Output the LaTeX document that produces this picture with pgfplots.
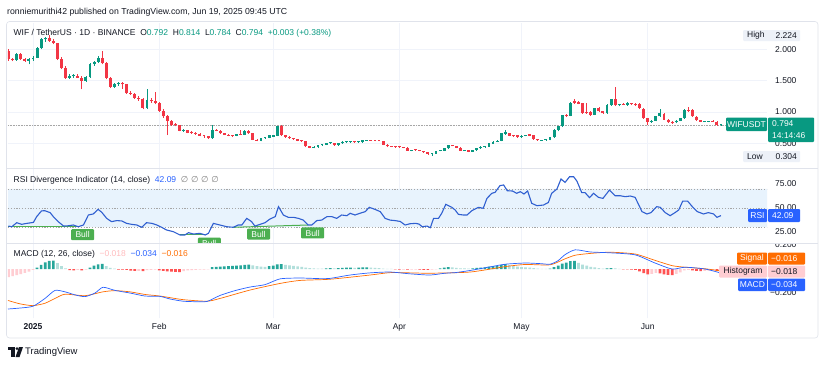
\documentclass[border=0pt]{standalone}
\usepackage{fontspec}
\setmainfont{Liberation Sans}
\newfontfamily\dejavu{DejaVu Sans}
\usepackage{pgfplots}
\usepackage{pgfplotstable}
\pgfplotsset{compat=1.18}
\definecolor{tvgreen}{HTML}{089981}
\definecolor{tvred}{HTML}{F23645}
\definecolor{tvblue}{HTML}{2962FF}
\definecolor{tvorange}{HTML}{FF6D00}
\definecolor{histg}{HTML}{26A69A}
\definecolor{histlg}{HTML}{B2DFDB}
\definecolor{histr}{HTML}{FF5252}
\definecolor{histp}{HTML}{FFCDD2}
\definecolor{gridc}{HTML}{F0F3FA}
\definecolor{framec}{HTML}{E0E3EB}
\definecolor{txt}{HTML}{131722}
\definecolor{rsiline}{HTML}{2F5FD0}
\definecolor{band}{HTML}{E8F3FD}
\definecolor{bull}{HTML}{4CAF50}
\definecolor{hlbox}{HTML}{EDF1F8}
\newcommand\tvf{\fontsize{8.5}{10}\selectfont}

\pgfplotstableread{
d o h l c
-6 1.98 2.00 1.82 1.84
-5 1.84 1.87 1.81 1.83
-4 1.83 1.95 1.82 1.93
-3 1.93 1.95 1.83 1.84
-2 1.84 1.86 1.80 1.82
-1 1.82 1.87 1.76 1.84
0 1.84 1.89 1.82 1.87
1 1.87 2.04 1.86 2.02
2 2.02 2.18 2.00 2.16
3 2.16 2.20 2.12 2.18
4 2.18 2.224 2.12 2.14
5 2.14 2.16 2.08 2.10
6 2.10 2.11 1.83 1.85
7 1.85 1.88 1.68 1.70
8 1.70 1.73 1.53 1.55
9 1.55 1.60 1.53 1.57
10 1.57 1.60 1.55 1.58
11 1.58 1.60 1.54 1.55
12 1.55 1.57 1.36 1.50
13 1.50 1.57 1.48 1.56
14 1.56 1.79 1.55 1.77
15 1.77 1.82 1.74 1.80
16 1.80 1.89 1.78 1.87
17 1.87 1.98 1.76 1.78
18 1.78 1.80 1.52 1.54
19 1.54 1.56 1.38 1.40
20 1.40 1.47 1.38 1.45
21 1.45 1.48 1.42 1.46
22 1.46 1.48 1.37 1.44
23 1.44 1.45 1.29 1.30
24 1.30 1.33 1.27 1.29
25 1.29 1.30 1.21 1.23
26 1.23 1.25 1.18 1.20
27 1.20 1.22 1.04 1.07
28 1.07 1.37 1.05 1.19
29 1.19 1.22 1.15 1.17
30 1.17 1.32 1.12 1.15
31 1.15 1.16 1.00 1.02
32 1.02 1.04 0.91 0.93
33 0.93 0.95 0.63 0.86
34 0.86 0.88 0.78 0.80
35 0.80 0.82 0.77 0.79
36 0.79 0.80 0.69 0.70
37 0.70 0.73 0.68 0.71
38 0.71 0.72 0.66 0.67
39 0.67 0.69 0.65 0.665
40 0.665 0.68 0.64 0.65
41 0.65 0.66 0.61 0.62
42 0.62 0.64 0.59 0.615
43 0.615 0.62 0.57 0.58
44 0.58 0.79 0.575 0.72
45 0.72 0.73 0.69 0.70
46 0.70 0.71 0.65 0.66
47 0.66 0.67 0.63 0.64
48 0.64 0.65 0.61 0.62
49 0.62 0.63 0.60 0.617
50 0.617 0.65 0.61 0.645
51 0.645 0.71 0.63 0.64
52 0.64 0.71 0.63 0.70
53 0.70 0.71 0.65 0.66
54 0.66 0.67 0.55 0.56
55 0.56 0.57 0.53 0.54
56 0.54 0.59 0.53 0.58
57 0.58 0.60 0.57 0.585
58 0.585 0.63 0.58 0.625
59 0.605 0.64 0.60 0.63
60 0.62 0.78 0.61 0.77
61 0.77 0.80 0.62 0.63
62 0.63 0.64 0.59 0.60
63 0.60 0.61 0.57 0.58
64 0.58 0.59 0.55 0.565
65 0.565 0.57 0.53 0.54
66 0.55 0.56 0.52 0.53
67 0.53 0.54 0.44 0.45
68 0.455 0.46 0.42 0.43
69 0.43 0.45 0.42 0.44
70 0.44 0.48 0.43 0.47
71 0.47 0.48 0.46 0.47
72 0.48 0.51 0.47 0.50
73 0.50 0.51 0.49 0.50
74 0.50 0.51 0.46 0.47
75 0.47 0.51 0.46 0.50
76 0.50 0.53 0.49 0.52
77 0.52 0.53 0.51 0.52
78 0.52 0.54 0.51 0.526
79 0.526 0.53 0.51 0.516
80 0.516 0.53 0.51 0.52
81 0.52 0.55 0.51 0.545
82 0.545 0.56 0.54 0.55
83 0.55 0.56 0.54 0.545
84 0.545 0.55 0.53 0.54
85 0.54 0.55 0.53 0.535
86 0.535 0.54 0.47 0.48
87 0.48 0.49 0.44 0.45
88 0.45 0.46 0.44 0.445
89 0.445 0.45 0.43 0.44
90 0.44 0.45 0.43 0.435
91 0.435 0.44 0.42 0.43
92 0.43 0.44 0.38 0.385
93 0.385 0.40 0.37 0.395
94 0.395 0.40 0.38 0.39
95 0.39 0.40 0.37 0.38
96 0.38 0.385 0.35 0.355
97 0.355 0.36 0.32 0.33
98 0.33 0.345 0.304 0.335
99 0.335 0.38 0.33 0.375
100 0.375 0.39 0.37 0.38
101 0.38 0.43 0.375 0.42
102 0.42 0.48 0.41 0.47
103 0.47 0.48 0.45 0.455
104 0.455 0.46 0.42 0.43
105 0.43 0.435 0.38 0.385
106 0.385 0.40 0.38 0.39
107 0.39 0.395 0.36 0.365
108 0.365 0.395 0.36 0.39
109 0.39 0.425 0.385 0.42
110 0.42 0.45 0.41 0.44
111 0.44 0.45 0.43 0.445
112 0.445 0.505 0.44 0.50
113 0.49 0.53 0.485 0.525
114 0.525 0.545 0.52 0.537
115 0.537 0.67 0.53 0.66
116 0.645 0.72 0.64 0.675
117 0.66 0.67 0.61 0.62
118 0.62 0.63 0.60 0.615
119 0.625 0.63 0.59 0.60
120 0.60 0.63 0.59 0.62
121 0.62 0.64 0.61 0.63
122 0.645 0.65 0.61 0.62
123 0.63 0.635 0.555 0.565
124 0.565 0.57 0.54 0.545
125 0.545 0.56 0.54 0.55
126 0.55 0.56 0.54 0.55
127 0.55 0.60 0.545 0.595
128 0.595 0.73 0.59 0.72
129 0.72 0.78 0.69 0.77
130 0.77 0.96 0.76 0.95
131 0.95 0.97 0.92 0.94
132 0.94 1.16 0.93 1.15
133 1.17 1.20 1.13 1.14
134 1.16 1.17 1.12 1.13
135 1.14 1.15 0.97 0.98
136 1.00 1.15 0.97 0.98
137 1.00 1.01 0.94 0.95
138 0.96 1.07 0.95 1.06
139 1.06 1.08 1.00 1.01
140 1.01 1.02 0.97 0.98
141 0.98 1.12 0.97 1.11
142 1.11 1.21 1.10 1.20
143 1.20 1.395 1.10 1.11
144 1.11 1.13 1.09 1.115
145 1.13 1.15 1.11 1.12
146 1.11 1.16 1.10 1.14
147 1.13 1.15 1.11 1.125
148 1.13 1.15 1.10 1.12
149 1.13 1.14 1.05 1.06
150 1.05 1.06 0.89 0.90
151 0.90 0.91 0.79 0.845
152 0.845 0.87 0.83 0.86
153 0.86 0.94 0.85 0.93
154 0.93 1.04 0.92 0.98
155 0.97 0.98 0.87 0.88
156 0.88 0.89 0.83 0.835
157 0.845 0.85 0.81 0.82
158 0.835 0.87 0.82 0.86
159 0.86 0.91 0.85 0.90
160 0.90 1.04 0.89 1.03
161 1.03 1.085 1.00 1.02
162 1.03 1.04 0.92 0.93
163 0.925 0.93 0.86 0.87
164 0.87 0.88 0.84 0.845
165 0.845 0.86 0.84 0.845
166 0.845 0.86 0.84 0.85
167 0.85 0.87 0.84 0.845
168 0.845 0.86 0.78 0.79
169 0.792 0.814 0.784 0.794
}\ohlc

\pgfplotstableread{
d r
-6.07 31.2
-5.2 30.5
-4.0 34.7
-2.8 33
-1.5 34
0.1 35
0.9 41
2.1 47
2.9 47.2
4.2 45.2
5.0 41
6.2 35.8
7.5 31.2
8.7 31.5
9.9 32.3
11.1 30.5
12.4 32.3
13.6 42.7
14.8 43.8
16.0 48.6
16.9 45.5
18.1 39.2
19.3 35.8
20.6 36.9
21.8 36.5
23.0 34
24.2 33
25.5 32.3
26.7 29.9
27.9 34.7
29.2 34
30.4 32.3
31.6 29.9
32.8 27.1
34.5 25.3
36.1 21.9
37.3 21.9
38.2 24.3
39.4 22.9
41.0 23.6
42.3 21.9
43.1 23.6
44.3 34
45.9 32.3
47.6 30.5
49.2 29.9
50.4 32.3
51.3 32.3
52.5 39.2
53.7 35.8
54.5 31.2
55.8 33
57.0 34.7
58.2 38.5
59.5 41
60.3 51.4
61.5 42.7
62.7 40.3
64.0 40.3
65.2 39.2
66.4 37.4
67.6 32.3
68.5 32.3
69.7 36.9
70.9 37.4
72.2 41
73.4 41
74.6 39.2
75.8 42.7
77.1 42
77.9 44.5
79.1 42.7
80.3 44.5
81.6 46.2
82.6 50.7
84.0 48.6
85.3 46.2
86.5 39.2
87.7 37.4
88.9 36.9
90.2 36
91.4 32.3
92.6 33.6
94.0 34
94.8 33.3
95.6 30.5
96.8 31.2
97.6 29.5
98.4 39.2
99.6 39.2
100.4 44.5
101.4 53.8
102.9 50.7
103.7 47.9
104.5 43.4
105.7 42.7
106.6 42.7
107.8 47.2
109.4 50.7
110.6 49.7
111.5 60
112.7 65.3
113.5 66.3
114.7 73.3
115.6 74
116.5 68
117.8 67.7
118.8 65.3
119.7 67
120.6 64.6
121.5 67.7
122.5 54.9
123.8 52.4
125.4 53.1
126.6 55.8
127.4 65.3
128.7 69.8
129.7 80.2
130.7 76.7
131.8 82.6
132.8 82.6
133.6 78.1
134.8 66
135.6 66
136.7 60.8
137.7 65.3
138.9 61.1
140.0 60
141.6 68.7
143.0 62.8
144.2 62.8
145.5 61.8
146.7 62.5
147.9 61.1
149.6 46.2
150.8 43.8
151.8 45.2
153.2 51.4
154.1 50.7
155.3 45.2
156.5 42
157.7 45.2
158.6 47.9
159.6 57.2
160.8 57.2
162.1 50.7
163.2 46.2
164.7 43.8
165.9 45.2
167.2 43.8
168.0 40.3
169.0 42.09
}\rsi

\pgfplotstableread{
d v
-6.14 -0.333
-3.19 -0.325
0 -0.31
2.95 -0.245
5.41 -0.178
7.86 -0.19
10.3 -0.215
12.78 -0.23
15.23 -0.20
17.2 -0.152
20.15 -0.178
23.83 -0.20
27.52 -0.225
31.2 -0.228
33.7 -0.25
36.86 -0.268
39.8 -0.272
42.75 -0.27
45.95 -0.22
49.6 -0.18
53.32 -0.15
57 -0.13
60.69 -0.082
65.6 -0.075
70.5 -0.08
72.97 -0.078
77.89 -0.05
82.8 -0.032
87.7 -0.025
92.6 -0.04
97.5 -0.05
101.2 -0.035
103.7 -0.03
107.4 -0.012
112.3 0.018
116 0.04
120.9 0.05
124.6 0.045
127 0.04
129 0.07
130.7 0.12
133.2 0.16
136.9 0.142
141.8 0.135
147.9 0.118
152.8 0.05
157 0.0
160.2 0.015
165.1 0.0
169 -0.034
}\macd

\pgfplotstableread{
d v
-6.14 -0.262
-3.19 -0.29
0 -0.305
2.95 -0.285
5.41 -0.245
7.86 -0.21
12.78 -0.222
17.2 -0.19
20.15 -0.18
23.83 -0.19
27.52 -0.212
31.2 -0.225
36.86 -0.255
42.75 -0.268
45.95 -0.245
53.32 -0.175
60.69 -0.12
65.6 -0.095
72.97 -0.085
82.8 -0.05
87.7 -0.03
92.6 -0.032
97.5 -0.035
107.4 -0.025
116 0.02
120.9 0.038
127 0.035
130.7 0.085
133.2 0.115
136.9 0.13
141.8 0.14
147.9 0.125
152.8 0.072
157 0.028
160.2 0.015
165.1 0.002
169 -0.016
}\signal

\pgfplotstableread{
d h c
-6 -0.068 4
-5 -0.060 4
-4 -0.050 4
-3 -0.042 4
-2 -0.032 4
-1 -0.022 4
0 -0.008 4
1 0.012 1
2 0.035 1
3 0.055 1
4 0.068 1
5 0.070 1
6 0.050 2
7 0.025 2
8 0.005 2
9 -0.010 3
10 -0.012 3
11 -0.008 4
12 -0.012 3
13 -0.006 4
14 0.012 1
15 0.028 1
16 0.038 1
17 0.042 1
18 0.025 2
19 0.010 2
20 0.004 2
21 -0.004 3
22 -0.006 3
23 -0.008 3
24 -0.014 3
25 -0.016 3
26 -0.015 4
27 -0.018 3
28 -0.010 4
29 -0.008 4
30 -0.006 4
31 -0.012 3
32 -0.016 3
33 -0.020 3
34 -0.022 3
35 -0.024 3
36 -0.025 3
37 -0.018 4
38 -0.012 4
39 -0.010 4
40 -0.008 4
41 -0.006 4
42 -0.004 4
43 -0.002 4
44 0.015 1
45 0.018 1
46 0.020 1
47 0.022 1
48 0.024 1
49 0.026 1
50 0.028 1
51 0.030 1
52 0.034 1
53 0.036 1
54 0.030 2
55 0.024 2
56 0.020 2
57 0.018 2
58 0.024 1
59 0.028 1
60 0.038 1
61 0.040 1
62 0.034 2
63 0.030 2
64 0.026 2
65 0.022 2
66 0.018 2
67 0.012 2
68 0.008 2
69 0.006 2
70 0.004 2
71 0.003 2
72 0.006 1
73 0.008 1
74 0.005 2
75 0.008 1
76 0.010 1
77 0.012 1
78 0.012 1
79 0.010 2
80 0.011 1
81 0.013 1
82 0.014 1
83 0.012 2
84 0.010 2
85 0.008 2
86 0.004 2
87 0.002 2
88 0.001 2
89 -0.003 3
90 -0.004 3
91 -0.004 4
92 -0.006 3
93 -0.005 4
94 -0.004 4
95 -0.006 3
96 -0.008 3
97 -0.008 3
98 -0.005 4
99 -0.002 4
100 0.006 1
101 0.012 1
102 0.016 1
103 0.014 2
104 0.010 2
105 0.006 2
106 0.005 2
107 0.004 2
108 0.006 1
109 0.010 1
110 0.012 1
111 0.014 1
112 0.020 1
113 0.024 1
114 0.026 1
115 0.034 1
116 0.040 1
117 0.032 2
118 0.026 2
119 0.020 2
120 0.016 2
121 0.014 2
122 0.012 2
123 0.008 2
124 0.004 2
125 0.002 2
126 0.001 2
127 0.004 1
128 0.016 1
129 0.028 1
130 0.044 1
131 0.054 1
132 0.066 1
133 0.068 1
134 0.052 2
135 0.036 2
136 0.028 2
137 0.018 2
138 0.014 2
139 0.008 2
140 0.004 2
141 0.006 1
142 0.008 1
143 0.005 2
144 0.002 2
145 -0.002 3
146 -0.003 3
147 -0.004 3
148 -0.008 3
149 -0.020 3
150 -0.035 3
151 -0.045 3
152 -0.040 4
153 -0.032 4
154 -0.036 3
155 -0.044 3
156 -0.048 3
157 -0.050 3
158 -0.040 4
159 -0.028 4
160 -0.012 4
161 -0.008 4
162 -0.012 3
163 -0.016 3
164 -0.018 3
165 -0.016 4
166 -0.014 4
167 -0.012 4
168 -0.018 3
169 -0.018 4
}\hist

\pgfplotsset{
  tvpanel/.style={
    scale only axis, width=759pt,
    xmin=-6.14, xmax=180.3,
    axis line style={draw=none},
    major tick length=0pt,
    tick style={draw=none},
    xtick={0,31,59,90,120,151},
    xmajorgrids, ymajorgrids,
    grid style={draw=gridc, line width=0.6pt},
    yticklabel pos=right,
    yticklabel style={font=\tvf, text=txt, anchor=east, xshift=33pt},
  },
  wick/.style={draw=none, no markers, forget plot,
    error bars/y dir=plus, error bars/y explicit, error bars/error mark=none,
    error bars/error bar style={solid, line width=0.7pt, draw=#1}},
  body/.style={draw=none, no markers, forget plot,
    error bars/y dir=plus, error bars/y explicit, error bars/error mark=none,
    error bars/error bar style={solid, line width=2.9pt, draw=#1}},
  hbar/.style={ybar, bar width=2.7pt, bar shift=0pt, draw=none, fill=#1, forget plot},
}

\begin{document}
\begin{tikzpicture}
\path[use as bounding box] (0,0) rectangle (825pt,-365pt);
\fill[white] (0,0) rectangle (825pt,-365pt);

% ---------------- price panel
\begin{axis}[tvpanel, at={(8pt,-23pt)}, anchor=north west, height=145pt,
  ymin=0.1054, ymax=2.4217, xticklabels={},
  ytick={0.5,1,1.5,2}, yticklabels={\raisebox{-2.5pt}{0.500},\mbox{1.000},\mbox{1.500},\mbox{2.000}}]
\addplot[gray!70, densely dotted, line width=0.6pt, forget plot] coordinates {(-6.14,0.794) (180.3,0.794)};
\addplot[restrict expr to domain={\thisrow{c}-\thisrow{o}}{0:100}, wick=tvgreen]
  table[x=d, y=l, y error plus expr={\thisrow{h}-\thisrow{l}}, y error minus expr=0] {\ohlc};
\addplot[restrict expr to domain={\thisrow{o}-\thisrow{c}}{0.000001:100}, wick=tvred]
  table[x=d, y=l, y error plus expr={\thisrow{h}-\thisrow{l}}, y error minus expr=0] {\ohlc};
\addplot[restrict expr to domain={\thisrow{c}-\thisrow{o}}{0:100}, body=tvgreen]
  table[x=d, y=o, y error plus expr={max(\thisrow{c}-\thisrow{o},0.014)}, y error minus expr=0] {\ohlc};
\addplot[restrict expr to domain={\thisrow{o}-\thisrow{c}}{0.000001:100}, body=tvred]
  table[x=d, y=c, y error plus expr={max(\thisrow{o}-\thisrow{c},0.014)}, y error minus expr=0] {\ohlc};
\end{axis}

% ---------------- RSI panel
\begin{axis}[tvpanel, at={(8pt,-168pt)}, anchor=north west, height=75pt,
  ymin=13.54, ymax=91.67, xticklabels={}, ymajorgrids=false,
  ytick={25,50,75}, yticklabels={\mbox{25.00},\mbox{50.00},\mbox{75.00}}]
\addplot[fill=band, draw=none, forget plot] coordinates {(-6.14,30) (180.3,30) (180.3,70) (-6.14,70) (-6.14,30)};
\addplot[gray!70, dash pattern=on 1.2pt off 1.6pt, line width=0.5pt, forget plot] coordinates {(-6.14,70) (180.3,70)};
\addplot[gray!70, dash pattern=on 1.2pt off 1.6pt, line width=0.5pt, forget plot] coordinates {(-6.14,50) (180.3,50)};
\addplot[gray!70, dash pattern=on 1.2pt off 1.6pt, line width=0.5pt, forget plot] coordinates {(-6.14,30) (180.3,30)};
\addplot[bull, line width=1pt, forget plot] coordinates {(-6.1,30.6) (11.2,30.6)};
\addplot[bull, line width=1pt, forget plot] coordinates {(36.1,21.9) (42.3,21.9)};
\addplot[bull, line width=1pt, forget plot] coordinates {(49.2,29.9) (67.6,32.3)};
\addplot[rsiline, line width=1.1pt] table[x=d, y=r] {\rsi};
\node[fill=bull, text=white, font=\tvf, rounded corners=1pt, inner sep=0pt, minimum width=23pt, minimum height=11pt] at (axis cs:12.2,22.2) {Bull};
\node[fill=bull, text=white, font=\tvf, rounded corners=1pt, inner sep=0pt, minimum width=23pt, minimum height=11pt] at (axis cs:43.3,13.3) {Bull};
\node[fill=bull, text=white, font=\tvf, rounded corners=1pt, inner sep=0pt, minimum width=23pt, minimum height=11pt] at (axis cs:55.4,22.9) {Bull};
\node[fill=bull, text=white, font=\tvf, rounded corners=1pt, inner sep=0pt, minimum width=23pt, minimum height=11pt] at (axis cs:68.7,24.0) {Bull};
\end{axis}

% ---------------- MACD panel
\begin{axis}[tvpanel, at={(8pt,-243pt)}, anchor=north west, height=75pt,
  ymin=-0.408, ymax=0.2167, ymajorgrids=false,
  ytick={-0.2,0.2}, yticklabels={\mbox{−0.200},\mbox{0.200}},
  xticklabels={\mbox{\bfseries 2025},\mbox{Feb},\mbox{Mar},\mbox{Apr},\mbox{May},\mbox{Jun}},
  xticklabel style={font=\tvf, text=txt, yshift=-2pt}]
\addplot[restrict expr to domain={\thisrow{c}}{0.5:1.5}, hbar=histg] table[x=d, y=h] {\hist};
\addplot[restrict expr to domain={\thisrow{c}}{1.5:2.5}, hbar=histlg] table[x=d, y=h] {\hist};
\addplot[restrict expr to domain={\thisrow{c}}{2.5:3.5}, hbar=histr] table[x=d, y=h] {\hist};
\addplot[restrict expr to domain={\thisrow{c}}{3.5:4.5}, hbar=histp] table[x=d, y=h] {\hist};
\addplot[tvorange, line width=0.7pt, smooth, tension=0.4] table[x=d, y=v] {\signal};
\addplot[tvblue, line width=0.7pt, smooth, tension=0.4] table[x=d, y=v] {\macd};
\end{axis}

% ---------------- frame and separators
\draw[framec, line width=0.6pt, rounded corners=3pt] (6.5pt,-21.5pt) rectangle (818pt,-338pt);
\draw[framec, line width=0.8pt] (6.5pt,-168pt) -- (818pt,-168pt);
\draw[framec, line width=0.8pt] (6.5pt,-243pt) -- (818pt,-243pt);
\fill[white] (768pt,-236.5pt) rectangle (816pt,-242.5pt);

% ---------------- texts
\node[anchor=west, text=txt, font=\fontsize{8.7}{10}\selectfont, inner sep=0pt] at (7pt,-12pt)
  {ronniemurithi42 published on TradingView.com, Jun 19, 2025 09:45 UTC};
\node[anchor=west, text=txt, font=\tvf, inner sep=0pt] at (13.5pt,-33pt)
  {WIF / TetherUS · 1D · BINANCE\ \ O\textcolor{tvgreen}{0.792}\ \ H\textcolor{tvgreen}{0.814}\ \ L\textcolor{tvgreen}{0.784}\ \ C\textcolor{tvgreen}{0.794}\ \ \textcolor{tvgreen}{+0.003 (+0.38\%)}};
\node[anchor=west, text=txt, font=\tvf, inner sep=0pt] at (13.5pt,-180pt)
  {RSI Divergence Indicator (14, close)\ \ \textcolor{tvblue}{42.09}\ \ \textcolor{gray}{\dejavu ∅\ ∅\ ∅\ ∅}};
\node[anchor=west, text=txt, font=\tvf, inner sep=0pt] at (13.5pt,-254pt)
  {MACD (12, 26, close)\ \ \textcolor{histp!70!red!60}{−0.018}\ \ \textcolor{tvblue}{−0.034}\ \ \textcolor{tvorange}{−0.016}};

% High / Low labels
\fill[hlbox, rounded corners=1pt] (743pt,-30pt) rectangle (800pt,-41pt);
\node[anchor=west, text=txt, font=\tvf, inner sep=0pt] at (747pt,-35.5pt) {High};
\node[anchor=east, text=txt, font=\tvf, inner sep=0pt] at (797pt,-35.5pt) {2.224};
\fill[hlbox, rounded corners=1pt] (743pt,-151pt) rectangle (800pt,-162pt);
\node[anchor=west, text=txt, font=\tvf, inner sep=0pt] at (747pt,-156.5pt) {Low};
\node[anchor=east, text=txt, font=\tvf, inner sep=0pt] at (797pt,-156.5pt) {0.304};

% last price label
\fill[tvgreen, rounded corners=1pt] (726pt,-117.5pt) rectangle (767pt,-131pt);
\node[text=white, font=\tvf, inner sep=0pt] at (746.5pt,-124.3pt) {WIFUSDT};
\fill[tvgreen, rounded corners=1pt] (768pt,-117.5pt) rectangle (814pt,-142pt);
\node[anchor=west, text=white, font=\tvf, inner sep=0pt] at (772pt,-124pt) {0.794};
\node[anchor=west, text=white, font=\tvf, inner sep=0pt] at (772pt,-136pt) {14:14:46};

% RSI label
\fill[tvblue, rounded corners=1pt] (748pt,-209pt) rectangle (767pt,-222pt);
\node[text=white, font=\tvf, inner sep=0pt] at (757.5pt,-215.5pt) {RSI};
\fill[tvblue, rounded corners=1pt] (768pt,-209pt) rectangle (800pt,-222pt);
\node[anchor=west, text=white, font=\tvf, inner sep=0pt] at (772pt,-215.5pt) {42.09};

% MACD labels
\fill[tvorange, rounded corners=1pt] (737pt,-252.5pt) rectangle (767pt,-264.5pt);
\node[text=white, font=\tvf, inner sep=0pt] at (752pt,-258.5pt) {Signal};
\fill[tvorange, rounded corners=1pt] (768pt,-252.5pt) rectangle (805pt,-264.5pt);
\node[anchor=west, text=white, font=\tvf, inner sep=0pt] at (771pt,-258.5pt) {−0.016};
\fill[histp, rounded corners=1pt] (719pt,-265.5pt) rectangle (767pt,-277.5pt);
\node[text=txt, font=\tvf, inner sep=0pt] at (743pt,-271.5pt) {Histogram};
\fill[histp, rounded corners=1pt] (768pt,-265.5pt) rectangle (805pt,-277.5pt);
\node[anchor=west, text=txt, font=\tvf, inner sep=0pt] at (771pt,-271.5pt) {−0.018};
\fill[tvblue, rounded corners=1pt] (738pt,-278.5pt) rectangle (767pt,-291pt);
\node[text=white, font=\tvf, inner sep=0pt] at (752.5pt,-284.7pt) {MACD};
\fill[tvblue, rounded corners=1pt] (768pt,-278.5pt) rectangle (805pt,-291pt);
\node[anchor=west, text=white, font=\tvf, inner sep=0pt] at (771pt,-284.7pt) {−0.034};

% TradingView logo
\fill[txt] (8pt,-347pt) rectangle (14.5pt,-350pt);
\fill[txt] (11pt,-350pt) rectangle (14.5pt,-357pt);
\fill[txt] (17pt,-348.6pt) circle (1.6pt);
\fill[txt] (19pt,-347pt) -- (23pt,-347pt) -- (19.5pt,-357pt) -- (15.5pt,-357pt) -- cycle;
\node[anchor=west, text=txt, font=\fontsize{9.5}{11}\selectfont, inner sep=0pt] at (25pt,-352pt) {TradingView};
\end{tikzpicture}
\end{document}
